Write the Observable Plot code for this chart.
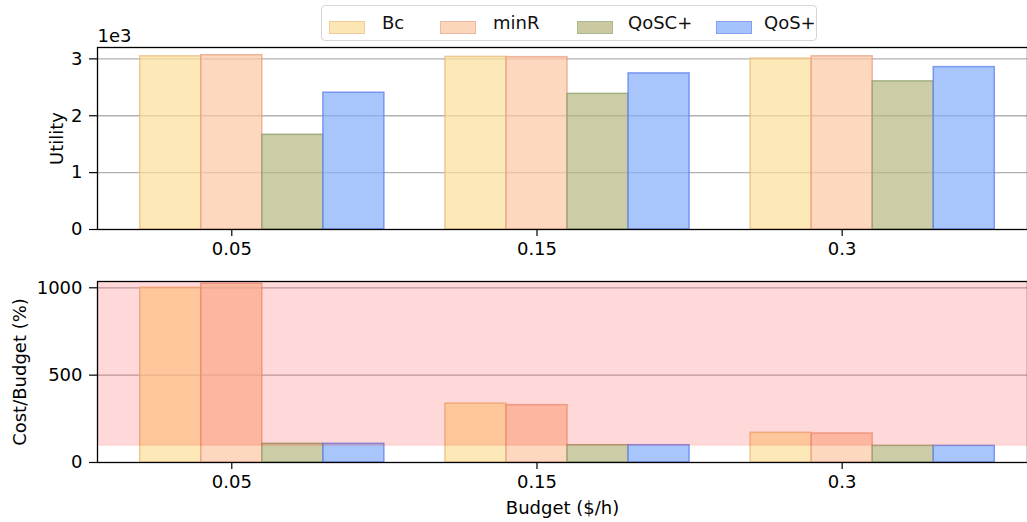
<!DOCTYPE html>
<html><head><meta charset="utf-8">
<script src="https://cdn.jsdelivr.net/npm/d3@7"></script>
<script src="https://cdn.jsdelivr.net/npm/@observablehq/plot@0.6"></script>
<style>
body{margin:0;overflow:hidden;background:#fff;font-family:"DejaVu Sans",sans-serif;}
#wrap{position:relative;width:1027px;height:522px;overflow:hidden;}
#wrap svg{display:block;overflow:visible;background:transparent;}
.legend{position:absolute;left:321px;top:5px;width:496px;height:36px;border:1px solid #d6d6d6;border-radius:4px;background:rgba(255,255,255,0.85);box-sizing:border-box;z-index:2;}
.legend .patch{position:absolute;top:15px;width:36px;height:13px;box-sizing:border-box;border:1.5px solid;}
.legend .lab{position:absolute;top:5px;font-size:18px;line-height:24px;color:#111;}
</style></head><body><div id="wrap"></div>
<script>
// ---- data ----
const budgets = ["0.05", "0.15", "0.3"];
const methods = ["Bc", "minR", "QoSC+", "QoS+"];
const utilityBc    = [3045, 3035, 3005];
const utilityMinR  = [3065, 3030, 3045];
const utilityQoSCp = [1665, 2385, 2605];
const utilityQoSp  = [2405, 2745, 2855];
const costBc    = [1000, 337, 170];
const costMinR  = [1023, 328, 166];
const costQoSCp = [107, 99, 95];
const costQoSp  = [107, 99, 95];
const overBudgetFrom = 100;
const utilityTicks = [0, 1000, 2000, 3000];
const costTicks = [0, 500, 1000];

// ---- styles ----
const fills   = ["#fce09b", "#fcc9a5", "#b9b883", "#86b0fb"];
const strokes = ["#eab97a", "#e8a084", "#8ea06a", "#5f80ec"];
const barW = 0.2;

const utilities = [utilityBc, utilityMinR, utilityQoSCp, utilityQoSp];
const costs = [costBc, costMinR, costQoSCp, costQoSp];
const rows = budgets.flatMap((b, i) => methods.map((m, j) => ({
  budget: b, i, j, method: m, utility: utilities[j][i], cost: costs[j][i]
})));
const x1 = d => d.i + (d.j - 1) * barW - barW / 2;
const x2 = d => d.i + (d.j - 1) * barW + barW / 2;

const xScale = {domain: [-0.44, 2.64], range: [97, 1037], axis: null};
const style = {fontFamily: "DejaVu Sans", fontSize: "18px", color: "#000", background: "transparent", overflow: "visible"};
const barOpts = key => ({x1, x2, y: key, fill: d => fills[d.j], stroke: d => strokes[d.j],
  fillOpacity: 0.72, strokeOpacity: 0.75, strokeWidth: 1.5});
const xAxis = Plot.axisX([0, 1, 2], {tickSize: 7, tickPadding: 6, tickFormat: i => budgets[i], label: null, stroke: "#000", strokeWidth: 1.2});

const topChart = Plot.plot({
  width: 1027, height: 260, marginTop: 47, marginBottom: 31, marginLeft: 97, marginRight: 0,
  x: xScale,
  y: {domain: [0, 3200], axis: null},
  style,
  marks: [
    Plot.gridY(utilityTicks.slice(1), {stroke: "#b0b0b0", strokeOpacity: 1, strokeWidth: 1.3}),
    Plot.rectY(rows, barOpts("utility")),
    Plot.axisY(utilityTicks, {tickSize: 8, tickPadding: 7, tickFormat: d => String(d / 1000), label: null, stroke: "#000", strokeWidth: 1.2}),
    xAxis,
    Plot.frame({stroke: "#000", strokeWidth: 1.3}),
    Plot.text(["Utility"], {frameAnchor: "left", dx: -40, rotate: -90, textAnchor: "middle", lineAnchor: "middle", fontSize: 18}),
    Plot.text(["1e3"], {frameAnchor: "top-left", dy: -6, textAnchor: "start", lineAnchor: "bottom", fontSize: 18})
  ]
});

const bottomChart = Plot.plot({
  width: 1027, height: 262, marginTop: 21, marginBottom: 60, marginLeft: 97, marginRight: 0,
  x: xScale,
  y: {domain: [0, 1036], axis: null},
  style,
  marks: [
    Plot.gridY(costTicks.slice(1), {stroke: "#b0b0b0", strokeOpacity: 1, strokeWidth: 1.3}),
    Plot.rectY(rows, barOpts("cost")),
    Plot.rectY([overBudgetFrom], {y1: d => d, y2: 1036, fill: "red", fillOpacity: 0.15}),
    Plot.ruleY([overBudgetFrom], {stroke: "red", strokeOpacity: 0.15, strokeWidth: 1.5}),
    Plot.axisY(costTicks, {tickSize: 8, tickPadding: 7, tickFormat: d => String(d), label: null, stroke: "#000", strokeWidth: 1.2}),
    xAxis,
    Plot.frame({stroke: "#000", strokeWidth: 1.3}),
    Plot.text(["Cost/Budget (%)"], {frameAnchor: "left", dx: -77, rotate: -90, textAnchor: "middle", lineAnchor: "middle", fontSize: 18}),
    Plot.text(["Budget ($/h)"], {frameAnchor: "bottom", dy: 46, textAnchor: "middle", lineAnchor: "middle", fontSize: 18})
  ]
});

const wrap = document.getElementById("wrap");
wrap.appendChild(topChart);
wrap.appendChild(bottomChart);

// legend
const patchLeft = [7, 118, 255, 394];
const labelLeft = [60, 171, 306, 442];
const legend = document.createElement("div");
legend.className = "legend";
methods.forEach((m, j) => {
  const p = document.createElement("div");
  p.className = "patch";
  p.style.left = patchLeft[j] + "px";
  p.style.background = fills[j];
  p.style.opacity = 0.75;
  p.style.borderColor = strokes[j];
  legend.appendChild(p);
  const t = document.createElement("div");
  t.className = "lab";
  t.style.left = labelLeft[j] + "px";
  t.textContent = m;
  legend.appendChild(t);
});
wrap.appendChild(legend);
</script></body></html>
